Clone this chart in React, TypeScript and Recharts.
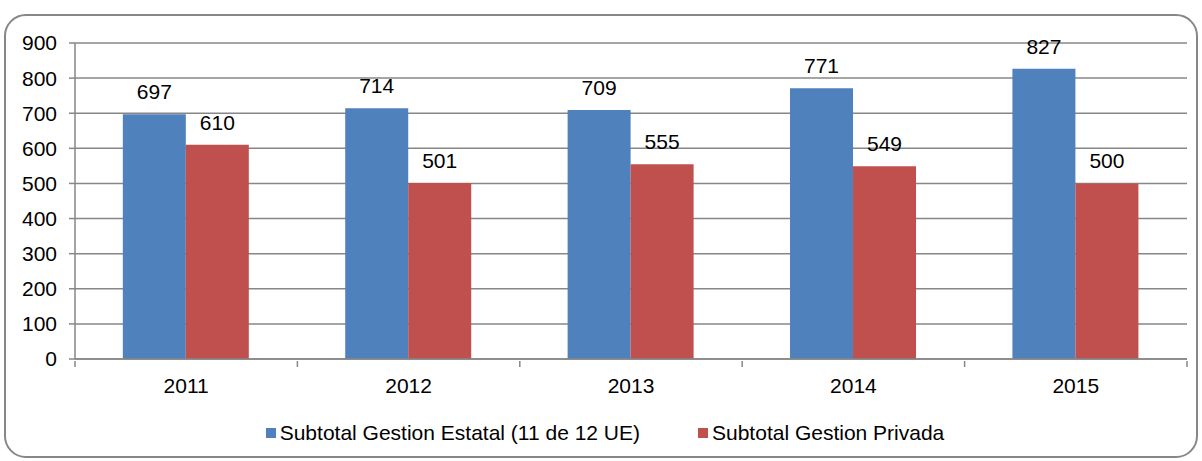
import { Bar, BarChart, CartesianGrid, LabelList, Legend, XAxis, YAxis } from 'recharts'

const years = ['2011', '2012', '2013', '2014', '2015']
const estatal = [697, 714, 709, 771, 827]
const privada = [610, 501, 555, 549, 500]
const yTicks = [0, 100, 200, 300, 400, 500, 600, 700, 800, 900]

const seriesNames = {
  estatal: 'Subtotal Gestion Estatal (11 de 12 UE)',
  privada: 'Subtotal Gestion Privada',
}

const chartData = years.map((year, i) => ({
  year,
  estatal: estatal[i],
  privada: privada[i],
}))

const FONT = '"Liberation Sans", Arial, sans-serif'
const AXIS = '#878787'
const BLUE = '#4F81BD'
const RED = '#C0504D'
const FS = 21

function YearTick(props: any) {
  const { x, y, payload, index } = props
  const half = payload.offset ?? 0
  return (
    <g>
      <line x1={x - half} x2={x - half} y1={y} y2={y + 6} stroke={AXIS} strokeWidth={1.5} />
      {index === years.length - 1 && (
        <line x1={x + half} x2={x + half} y1={y} y2={y + 6} stroke={AXIS} strokeWidth={1.5} />
      )}
      <text x={x} y={y + 17} dy="0.71em" textAnchor="middle" fill="#000" fontSize={FS} fontFamily={FONT}>
        {payload.value}
      </text>
    </g>
  )
}

function LegendContent() {
  const items = [
    { name: seriesNames.estatal, color: BLUE },
    { name: seriesNames.privada, color: RED },
  ]
  return (
    <div
      style={{
        display: 'flex',
        justifyContent: 'center',
        gap: 58,
        height: 24,
        alignItems: 'center',
        fontFamily: FONT,
        paddingLeft: 8,
      }}
    >
      {items.map((item) => (
        <div key={item.name} style={{ display: 'flex', alignItems: 'center', fontSize: FS, color: '#000' }}>
          <span style={{ width: 10, height: 10, background: item.color, marginRight: 4, display: 'inline-block' }} />
          {item.name}
        </div>
      ))}
    </div>
  )
}

export default function App() {
  return (
    <div style={{ position: 'absolute', left: 0, top: 0, width: 1202, height: 461, background: '#fff', fontFamily: FONT }}>
      <div
        style={{
          position: 'absolute',
          left: 4,
          top: 14,
          width: 1194,
          height: 444,
          border: `2px solid ${AXIS}`,
          borderRadius: 22,
          boxSizing: 'border-box',
        }}
      />
      <BarChart
        width={1202}
        height={461}
        data={chartData}
        margin={{ top: 43, right: 15, left: 15, bottom: 16 }}
        barCategoryGap="21.5%"
        barGap={0}
        style={{ position: 'absolute', left: 0, top: 0, fontFamily: FONT }}
      >
        <CartesianGrid vertical={false} stroke={AXIS} strokeWidth={1.5} />
        <XAxis
          dataKey="year"
          height={62}
          tickSize={0}
          tickLine={false}
          axisLine={{ stroke: AXIS, strokeWidth: 1.5 }}
          tick={<YearTick />}
          interval={0}
        />
        <YAxis
          width={60}
          domain={[0, 900]}
          ticks={yTicks}
          tickSize={6}
          tickMargin={12}
          axisLine={{ stroke: AXIS, strokeWidth: 1.5 }}
          tickLine={{ stroke: AXIS, strokeWidth: 1.5 }}
          tick={{ fill: '#000', fontSize: FS, fontFamily: FONT }}
          interval={0}
        />
        <Legend verticalAlign="bottom" content={<LegendContent />} wrapperStyle={{ height: 24 }} />
        <Bar dataKey="estatal" name={seriesNames.estatal} fill={BLUE} isAnimationActive={false}>
          <LabelList dataKey="estatal" position="top" offset={15} fill="#000" fontSize={FS} fontFamily={FONT} />
        </Bar>
        <Bar dataKey="privada" name={seriesNames.privada} fill={RED} isAnimationActive={false}>
          <LabelList dataKey="privada" position="top" offset={15} fill="#000" fontSize={FS} fontFamily={FONT} />
        </Bar>
      </BarChart>
    </div>
  )
}
